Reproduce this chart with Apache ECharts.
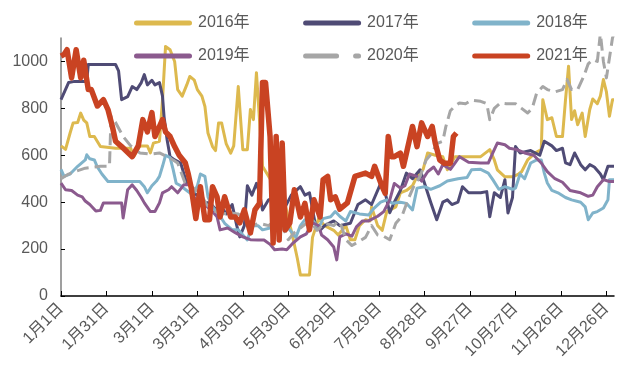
<!DOCTYPE html>
<html><head><meta charset="utf-8">
<script src="https://cdn.jsdelivr.net/npm/echarts@6/dist/echarts.min.js"></script>
<style>html,body{margin:0;padding:0;background:#fff}#c{width:619px;height:373px}</style>
</head><body><div id="c"></div>
<script>
// Day-of-year index (0 = 1月1日, leap-year calendar) and values for each year
const d2016 = [0,3,6,8,11,13,15,17,19,22,26,36,46,48,52,57,59,61,65,67,69,72,75,77,80,83,85,88,90,93,95,97,100,102,104,106,109,112,114,117,120,123,125,127,129,131,133,138,143,146,149,153,156,158,164,166,170,174,180,183,188,191,194,197,201,204,205,209,212,215,221,224,228,232,235,239,242,247,252,255,260,267,277,283,286,288,293,298,302,304,308,313,317,318,321,324,327,331,333,335,337,339,341,344,346,349,351,354,356,358,360,362,364,365];
const v2016 = [640,625,695,738,740,780,750,738,680,680,637,630,630,594,640,640,610,652,660,837,1064,1050,1000,880,852,900,936,920,880,852,808,695,637,620,738,738,650,609,640,893,624,624,795,752,952,752,553,500,560,450,360,250,160,90,90,250,330,300,280,260,300,240,240,300,325,320,380,300,280,360,380,440,450,470,510,540,610,600,594,538,594,594,594,624,580,538,508,508,520,530,580,610,624,837,752,760,680,680,837,980,752,790,730,780,680,795,840,820,852,923,870,766,837,837];

const d2017 = [0,5,9,17,18,36,38,40,44,47,50,53,55,57,60,62,65,67,68,70,72,75,79,81,83,86,88,92,95,98,102,105,109,113,116,118,121,123,126,129,131,133,137,141,148,152,158,161,164,168,171,174,180,184,191,196,201,205,211,214,217,220,224,228,232,237,240,244,248,252,255,258,262,265,269,277,281,283,286,290,293,295,298,300,303,310,316,319,324,327,331,333,336,339,343,346,349,352,356,358,361,365];
const v2017 = [837,910,915,915,987,987,960,837,850,893,880,910,944,900,920,900,910,852,766,667,594,580,567,524,481,470,438,420,395,400,370,390,350,390,300,252,300,470,430,480,440,367,410,420,380,430,466,430,440,300,280,300,320,300,310,390,410,390,480,440,355,400,450,524,500,538,480,400,325,400,410,390,400,466,440,440,445,338,440,420,496,354,420,637,610,620,600,660,640,620,630,568,560,610,560,538,560,550,520,496,553,553];

const d2018 = [0,2,6,11,16,17,19,22,24,27,31,42,52,55,57,60,63,65,67,69,72,74,76,79,83,87,90,92,95,97,100,105,108,113,117,120,123,126,130,133,138,142,146,150,155,158,161,166,170,173,178,181,184,188,191,197,203,206,211,215,219,224,228,232,235,240,244,250,255,262,268,271,277,282,285,289,293,298,300,303,306,310,314,317,319,321,324,328,333,337,343,346,348,351,354,358,361,362,365];
const v2018 = [540,510,520,553,580,602,585,580,550,520,488,488,488,466,440,470,490,510,553,600,590,540,481,470,450,430,470,520,510,423,380,340,310,282,282,260,239,300,300,282,290,338,300,290,250,300,325,325,290,330,338,360,340,320,360,350,345,370,400,410,395,400,395,367,460,466,455,470,490,500,505,538,540,524,496,455,466,455,460,520,500,567,580,580,524,482,450,440,420,410,400,380,325,354,360,375,410,496,496];

const d2019 = [0,3,7,11,14,16,19,23,26,28,32,40,41,44,47,50,53,55,59,62,65,67,71,73,77,81,85,87,90,95,100,103,105,110,115,120,125,130,134,138,141,146,149,153,158,162,166,170,172,176,180,182,184,188,192,195,199,203,209,213,217,220,224,227,230,235,238,242,246,249,252,257,260,263,269,277,282,285,288,293,296,301,306,312,317,321,326,331,336,343,348,351,354,358,362,365];
const v2019 = [481,453,450,430,423,405,390,362,365,397,397,397,333,453,474,450,420,397,360,360,397,440,453,466,440,474,474,430,400,390,360,338,282,290,270,252,240,239,239,220,197,200,197,225,252,265,312,300,260,240,209,154,252,265,255,295,320,320,340,360,410,480,460,470,520,510,490,530,550,520,560,540,567,594,570,567,567,610,652,645,630,624,610,600,567,530,500,485,450,440,425,430,466,496,488,488];

const d2020 = [0,5,9,16,26,32,33,36,41,46,52,59,65,70,74,77,82,86,92,96,102,106,112,117,121,126,131,137,141,146,150,154,160,164,169,174,180,183,185,188,192,196,201,205,209,213,217,221,225,229,233,237,241,245,248,252,254,257,260,263,267,271,277,281,283,286,290,294,300,304,308,311,314,318,321,326,331,334,337,341,345,348,351,354,356,358,360,364,365];
const v2020 = [500,520,530,545,553,553,766,740,680,640,610,605,610,594,580,567,480,466,440,390,360,350,354,350,330,300,310,300,320,300,240,270,300,320,280,310,300,320,300,240,215,230,250,300,260,255,240,310,340,410,470,510,580,610,650,660,722,790,810,823,820,835,830,820,752,800,823,820,820,800,780,800,866,893,880,870,880,923,880,880,936,990,1008,1000,1120,1000,930,1100,1120];

const d2021 = [0,2,4,7,10,13,15,18,20,22,24,28,31,34,36,40,47,51,54,57,60,62,67,69,72,75,78,82,84,86,89,92,95,98,100,103,105,108,112,115,118,121,125,128,131,133,135,138,140,142,144,146,148,151,154,158,161,164,167,171,173,176,178,181,184,189,194,201,205,207,212,214,216,218,220,224,226,228,232,235,238,242,245,247,250,253,257,259,261];
const v2021 = [1023,1030,1050,930,1050,930,1005,880,880,845,810,837,795,720,660,637,594,640,752,700,782,680,752,700,680,637,600,568,520,460,330,466,325,325,466,423,337,423,337,337,312,367,269,367,395,910,910,680,226,680,239,652,282,311,453,337,395,282,410,337,496,510,410,423,370,397,510,524,510,553,466,438,680,594,594,609,553,609,723,637,738,680,723,652,580,566,566,680,695];

const seriesNames = ['2016年','2017年','2018年','2019年','2020年','2021年'];
const seriesDays = [d2016,d2017,d2018,d2019,d2020,d2021];
const seriesVals = [v2016,v2017,v2018,v2019,v2020,v2021];
const colors = ['#DDB94E','#4F4B75','#80B3CA','#8B5A8E','#A6A6A6','#C94322'];
const widths = [3,3,3,3,3,5.5];

// categories: every day of a leap year
const categories = [];
for (let i = 0; i < 366; i++) {
  const dt = new Date(2020, 0, 1 + i);
  categories.push((dt.getMonth() + 1) + '月' + dt.getDate() + '日');
}

const FONT = "'Liberation Sans', 'Noto Sans CJK SC', sans-serif";
const chart = echarts.init(document.getElementById('c'), null, {renderer: 'canvas'});

const series = seriesNames.map((n, k) => ({
  name: n,
  type: 'line',
  symbol: 'none',
  connectNulls: true,
  data: seriesDays[k].map((d, i) => [d, seriesVals[k][i]]),
  lineStyle: {color: colors[k], width: widths[k], type: k === 4 ? [12, 6] : 'solid', join: 'round'},
  itemStyle: {color: colors[k]},
  z: 2 + k,
  animation: false
}));

const solidIcon = 'path://M2.5,0H55.5A2.5,2.5,0,0,1,55.5,5H2.5A2.5,2.5,0,0,1,2.5,0Z';
const dashIcon = 'path://M2.5,0H33.5A2.5,2.5,0,0,1,33.5,5H2.5A2.5,2.5,0,0,1,2.5,0Z M52.5,0H55.5A2.5,2.5,0,0,1,55.5,5H52.5A2.5,2.5,0,0,1,52.5,0Z';
function legendItems(names) {
  return names.map(n => ({name: n, icon: n === '2020年' ? dashIcon : solidIcon}));
}
const legendText = {color: '#595959', fontSize: 16, fontFamily: FONT, padding: [0, 0, 0, 1]};
chart.setOption({
  animation: false,
  textStyle: {fontFamily: FONT},
  legend: [
    {data: legendItems(['2016年','2017年','2018年']), left: 129, top: 10, itemWidth: 58, itemHeight: 5, itemGap: 53.5, textStyle: legendText},
    {data: legendItems(['2019年','2020年','2021年']), left: 129, top: 43, itemWidth: 58, itemHeight: 5, itemGap: 53.5, textStyle: legendText}
  ],
  grid: {left: 61, right: 5, top: 38, bottom: 77, containLabel: false},
  xAxis: {
    type: 'category',
    data: categories,
    boundaryGap: false,
    axisLine: {lineStyle: {color: '#000', width: 1.5}},
    axisTick: {inside: true, interval: 29, length: 5, lineStyle: {color: '#000'}},
    axisLabel: {interval: 29, rotate: 45, color: '#595959', fontSize: 16, fontFamily: FONT, margin: 10},
    splitLine: {show: false}
  },
  yAxis: {
    type: 'value',
    min: 0, max: 1100, interval: 200,
    axisLine: {show: true, lineStyle: {color: '#7f7f7f', width: 1.5}},
    axisTick: {show: true, inside: true, length: 4, lineStyle: {color: '#000'}},
    axisLabel: {color: '#595959', fontSize: 16, fontFamily: FONT, margin: 13, showMaxLabel: false, formatter: v => String(v)},
    splitLine: {show: false}
  },
  series: series
});
</script>
</body></html>
